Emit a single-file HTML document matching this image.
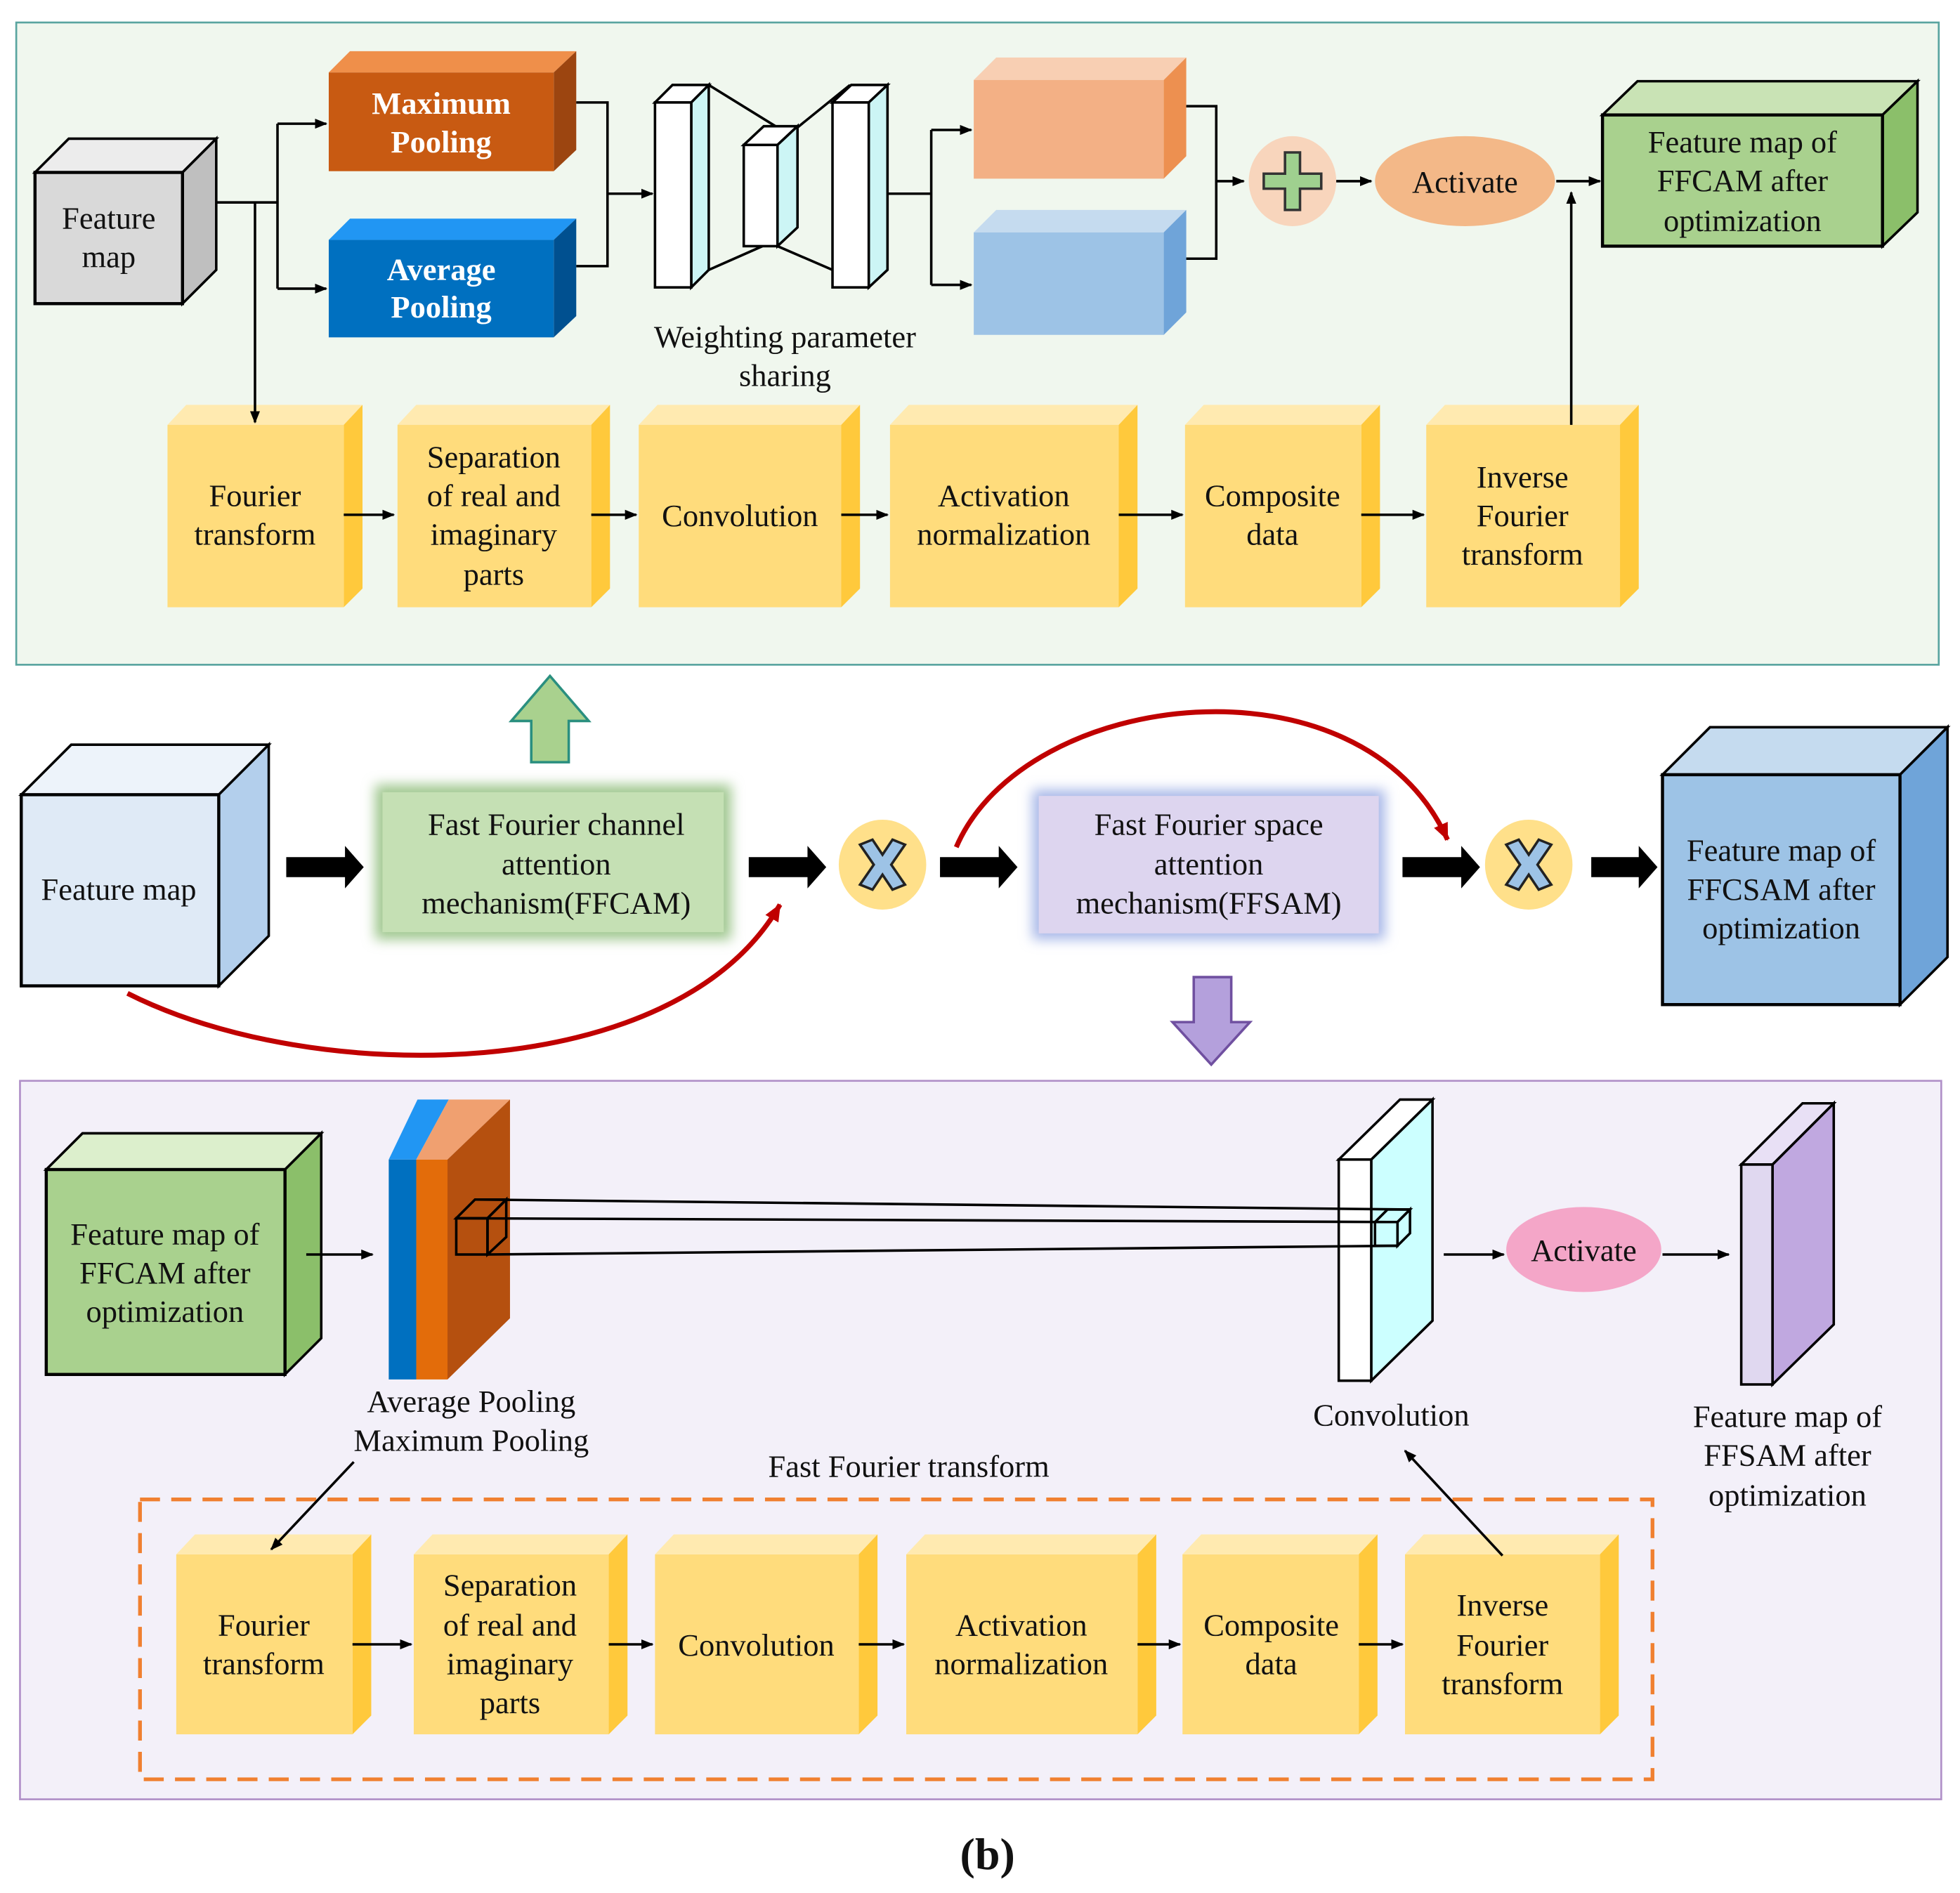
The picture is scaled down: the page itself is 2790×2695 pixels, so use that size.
<!DOCTYPE html>
<html><head><meta charset="utf-8"><style>html,body{margin:0;padding:0;background:#fff}svg{display:block}svg text{font-family:"Liberation Serif","DejaVu Serif",serif;fill:#111}</style></head><body>
<svg width="2790" height="2695" viewBox="0 0 1568 1515" preserveAspectRatio="none" xmlns="http://www.w3.org/2000/svg" font-family="Liberation Serif, DejaVu Serif, serif">
<defs>
<marker id="a" markerWidth="10" markerHeight="10" refX="9" refY="5" orient="auto" markerUnits="userSpaceOnUse"><path d="M0,1 L10,5 L0,9 Z" fill="#000"/></marker>
<marker id="r" markerWidth="16" markerHeight="16" refX="13" refY="8" orient="auto" markerUnits="userSpaceOnUse"><path d="M0,2 L14,8 L0,14 Z" fill="#c00000"/></marker>
<filter id="g" x="-20%" y="-20%" width="140%" height="140%"><feGaussianBlur stdDeviation="5"/></filter>
</defs>
<g font-size="25" text-anchor="middle" font-family="Liberation Serif, DejaVu Serif, serif">
<!-- top panel -->
<rect x="13" y="18" width="1538" height="514" fill="#f0f7ee" stroke="#5aa5a0" stroke-width="1.5"/>
<polygon points="28,138 55,111 173,111 146,138" fill="#ececec" stroke="#000" stroke-width="2"/>
<polygon points="146,138 173,111 173,216 146,243" fill="#bfbfbf" stroke="#000" stroke-width="2"/>
<rect x="28" y="138" width="118" height="105" fill="#d9d9d9" stroke="#000" stroke-width="2.5"/>
<text x="87" y="183">Feature</text><text x="87" y="214">map</text>
<polygon points="263,58 280,41 461,41 443,58" fill="#ef8f4a"/>
<polygon points="443,58 461,41 461,120 443,137" fill="#9c4510"/>
<rect x="263" y="58" width="180" height="79" fill="#c85a12"/>
<text x="353" y="91" style="fill:#fff" font-weight="bold">Maximum</text><text x="353" y="122" style="fill:#fff" font-weight="bold">Pooling</text>
<polygon points="263,192 280,175 461,175 443,192" fill="#2196f3"/>
<polygon points="443,192 461,175 461,253 443,270" fill="#005090"/>
<rect x="263" y="192" width="180" height="78" fill="#0070c0"/>
<text x="353" y="224" style="fill:#fff" font-weight="bold">Average</text><text x="353" y="254" style="fill:#fff" font-weight="bold">Pooling</text>
<!-- encoder -->
<g stroke="#000" stroke-width="2">
<line x1="567" y1="68" x2="622" y2="102"/><line x1="567" y1="216" x2="610" y2="197"/>
<line x1="638" y1="102" x2="680" y2="68"/><line x1="622" y1="197" x2="666" y2="216"/>
<polygon points="524,82 538,68 567,68 553,82" fill="#fff"/><polygon points="553,82 567,68 567,216 553,230" fill="#ccf5f5"/><rect x="524" y="82" width="29" height="148" fill="#fff"/>
<polygon points="595,116 611,101 638,101 622,116" fill="#fff"/><polygon points="622,116 638,101 638,182 622,197" fill="#ccf5f5"/><rect x="595" y="116" width="27" height="81" fill="#fff"/>
<polygon points="666,82 681,68 710,68 695,82" fill="#fff"/><polygon points="695,82 710,68 710,216 695,230" fill="#ccf5f5"/><rect x="666" y="82" width="29" height="148" fill="#fff"/>
</g>
<text x="628" y="278">Weighting parameter</text><text x="628" y="309">sharing</text>
<polygon points="779,64 797,46 949,46 931,64" fill="#f8cfb3"/><polygon points="931,64 949,46 949,125 931,143" fill="#ed9050"/><rect x="779" y="64" width="152" height="79" fill="#f3b085"/>
<polygon points="779,186 797,168 949,168 931,186" fill="#c5dbef"/><polygon points="931,186 949,168 949,250 931,268" fill="#6fa4d9"/><rect x="779" y="186" width="152" height="82" fill="#9dc3e6"/>
<ellipse cx="1034" cy="145" rx="35" ry="36" fill="#f8d5bc"/>
<path d="M1028,122 h12 v17 h17 v12 h-17 v17 h-12 v-17 h-17 v-12 h17 z" fill="#9fd08f" stroke="#333" stroke-width="2"/>
<ellipse cx="1172" cy="145" rx="72" ry="36" fill="#f3b888"/>
<text x="1172" y="154">Activate</text>
<polygon points="1282,92 1310,65 1534,65 1506,92" fill="#c9e3b5" stroke="#000" stroke-width="2"/>
<polygon points="1506,92 1534,65 1534,170 1506,197" fill="#8bbf6a" stroke="#000" stroke-width="2"/>
<rect x="1282" y="92" width="224" height="105" fill="#a9d18e" stroke="#000" stroke-width="2.5"/>
<text x="1394" y="122">Feature map of</text><text x="1394" y="153">FFCAM after</text><text x="1394" y="185">optimization</text>
<!-- yellow row 1 -->
<g>
<polygon points="134,340 149,324 290,324 275,340" fill="#ffeab0"/><polygon points="275,340 290,324 290,471 275,486" fill="#ffc93c"/><rect x="134" y="340" width="141" height="146" fill="#ffdc7c"/>
<polygon points="318,340 333,324 488,324 473,340" fill="#ffeab0"/><polygon points="473,340 488,324 488,471 473,486" fill="#ffc93c"/><rect x="318" y="340" width="155" height="146" fill="#ffdc7c"/>
<polygon points="511,340 526,324 688,324 673,340" fill="#ffeab0"/><polygon points="673,340 688,324 688,471 673,486" fill="#ffc93c"/><rect x="511" y="340" width="162" height="146" fill="#ffdc7c"/>
<polygon points="712,340 727,324 910,324 895,340" fill="#ffeab0"/><polygon points="895,340 910,324 910,471 895,486" fill="#ffc93c"/><rect x="712" y="340" width="183" height="146" fill="#ffdc7c"/>
<polygon points="948,340 963,324 1104,324 1089,340" fill="#ffeab0"/><polygon points="1089,340 1104,324 1104,471 1089,486" fill="#ffc93c"/><rect x="948" y="340" width="141" height="146" fill="#ffdc7c"/>
<polygon points="1141,340 1156,324 1311,324 1296,340" fill="#ffeab0"/><polygon points="1296,340 1311,324 1311,471 1296,486" fill="#ffc93c"/><rect x="1141" y="340" width="155" height="146" fill="#ffdc7c"/>
</g>
<g stroke="#000" stroke-width="2" fill="none">
<path d="M173,162 H222"/><path d="M222,99 V231"/>
<path d="M222,99 H261" marker-end="url(#a)"/><path d="M222,231 H261" marker-end="url(#a)"/>
<path d="M204,162 V338" marker-end="url(#a)"/>
<path d="M461,82 H486 V213 H461"/><path d="M486,155 H522" marker-end="url(#a)"/>
<path d="M710,155 H745"/><path d="M745,104 V228"/><path d="M745,104 H777" marker-end="url(#a)"/><path d="M745,228 H777" marker-end="url(#a)"/>
<path d="M949,85 H973 V207 H949"/><path d="M973,145 H995" marker-end="url(#a)"/>
<path d="M1069,145 H1097" marker-end="url(#a)"/>
<path d="M1245,145 H1280" marker-end="url(#a)"/>
<path d="M1257,340 V154" marker-end="url(#a)"/>
<path d="M275,412 H315" marker-end="url(#a)"/><path d="M473,412 H509" marker-end="url(#a)"/><path d="M673,412 H710" marker-end="url(#a)"/>
<path d="M895,412 H946" marker-end="url(#a)"/><path d="M1089,412 H1139" marker-end="url(#a)"/>
</g>
<text x="204" y="405">Fourier</text><text x="204" y="436">transform</text>
<text x="395" y="374">Separation</text><text x="395" y="405">of real and</text><text x="395" y="436">imaginary</text><text x="395" y="468">parts</text>
<text x="592" y="421">Convolution</text>
<text x="803" y="405">Activation</text><text x="803" y="436">normalization</text>
<text x="1018" y="405">Composite</text><text x="1018" y="436">data</text>
<text x="1218" y="390">Inverse</text><text x="1218" y="421">Fourier</text><text x="1218" y="452">transform</text>

<!-- middle -->
<path d="M440,541 L471,577 L455,577 L455,610 L425,610 L425,577 L409,577 Z" fill="#a9d18e" stroke="#2a8f7f" stroke-width="2"/>
<polygon points="17,636 57,596 215,596 175,636" fill="#edf3fa" stroke="#000" stroke-width="2"/>
<polygon points="175,636 215,596 215,749 175,789" fill="#b3cfec" stroke="#000" stroke-width="2"/>
<rect x="17" y="636" width="158" height="153" fill="#dfeaf6" stroke="#000" stroke-width="2.5"/>
<text x="95" y="720">Feature map</text>
<rect x="300" y="628" width="285" height="124" fill="#a0c890" filter="url(#g)"/>
<rect x="306" y="634" width="273" height="112" fill="#c5e0b4"/>
<text x="445" y="668">Fast Fourier channel</text><text x="445" y="700">attention</text><text x="445" y="731">mechanism(FFCAM)</text>
<rect x="826" y="632" width="282" height="120" fill="#a8b8e8" filter="url(#g)"/>
<rect x="831" y="637" width="272" height="110" fill="#ddd5ef"/>
<text x="967" y="668">Fast Fourier space</text><text x="967" y="700">attention</text><text x="967" y="731">mechanism(FFSAM)</text>
<g fill="#000">
<path d="M229,686 H276 V677 L291,694 L276,711 V702 H229 Z"/>
<path d="M599,686 H646 V677 L661,694 L646,711 V702 H599 Z"/>
<path d="M752,686 H799 V677 L814,694 L799,711 V702 H752 Z"/>
<path d="M1122,686 H1169 V677 L1184,694 L1169,711 V702 H1122 Z"/>
<path d="M1273,686 H1311 V677 L1326,694 L1311,711 V702 H1273 Z"/>
</g>
<ellipse cx="706" cy="692" rx="35" ry="36" fill="#ffe08a"/>
<path d="M688,676 L698,672 L706,684 L714,672 L724,676 L713,692 L724,708 L714,712 L706,700 L698,712 L688,708 L699,692 Z" fill="#9dc3e6" stroke="#222" stroke-width="2"/>
<ellipse cx="1223" cy="692" rx="35" ry="36" fill="#ffe08a"/>
<path d="M1205,676 L1215,672 L1223,684 L1231,672 L1241,676 L1230,692 L1241,708 L1231,712 L1223,700 L1215,712 L1205,708 L1216,692 Z" fill="#9dc3e6" stroke="#222" stroke-width="2"/>
<polygon points="1330,620 1368,582 1558,582 1520,620" fill="#c5dbef" stroke="#000" stroke-width="2"/>
<polygon points="1520,620 1558,582 1558,766 1520,804" fill="#6fa4d9" stroke="#000" stroke-width="2"/>
<rect x="1330" y="620" width="190" height="184" fill="#9dc3e6" stroke="#000" stroke-width="2.5"/>
<text x="1425" y="689">Feature map of</text><text x="1425" y="720">FFCSAM after</text><text x="1425" y="751">optimization</text>
<path d="M102,795 C250,870 540,870 624,724" fill="none" stroke="#c00000" stroke-width="4" marker-end="url(#r)"/>
<path d="M765,678 C820,550 1090,520 1158,672" fill="none" stroke="#c00000" stroke-width="4" marker-end="url(#r)"/>
<path d="M955,782 H985 V818 H1000 L969,852 L938,818 H955 Z" fill="#b4a0dc" stroke="#7050a0" stroke-width="2"/>

<!-- bottom panel -->
<rect x="16" y="865" width="1537" height="575" fill="#f3f0f9" stroke="#b090c8" stroke-width="1.5"/>
<polygon points="37,936 66,907 257,907 228,936" fill="#dcefcc" stroke="#000" stroke-width="2"/>
<polygon points="228,936 257,907 257,1071 228,1100" fill="#8bbf6a" stroke="#000" stroke-width="2"/>
<rect x="37" y="936" width="191" height="164" fill="#a9d18e" stroke="#000" stroke-width="2.5"/>
<text x="132" y="996">Feature map of</text><text x="132" y="1027">FFCAM after</text><text x="132" y="1058">optimization</text>
<polygon points="311,928 334,880 359,880 333,928" fill="#2196f3"/>
<polygon points="333,928 359,880 408,880 358,928" fill="#f0a070"/>
<polygon points="358,928 408,880 408,1055 358,1104" fill="#b5500f"/>
<rect x="311" y="928" width="22" height="176" fill="#0070c0"/><rect x="333" y="928" width="25" height="176" fill="#e36c0a"/>
<polygon points="1097,928 1146,880 1146,1057 1097,1105" fill="#ccffff" stroke="#000" stroke-width="2"/>
<polygon points="1071,928 1120,880 1146,880 1097,928" fill="#fff" stroke="#000" stroke-width="2"/>
<rect x="1071" y="928" width="26" height="177" fill="#fff" stroke="#000" stroke-width="2"/>
<ellipse cx="1267" cy="1000" rx="62" ry="34" fill="#f4a6c8"/>
<text x="1267" y="1009">Activate</text>
<polygon points="1418,932 1467,883 1467,1060 1418,1108" fill="#c0a8e0" stroke="#000" stroke-width="2"/>
<polygon points="1393,932 1442,883 1467,883 1418,932" fill="#e8e0f5" stroke="#000" stroke-width="2"/>
<rect x="1393" y="932" width="25" height="176" fill="#e0d8f0" stroke="#000" stroke-width="2"/>
<text x="377" y="1130">Average Pooling</text><text x="377" y="1161">Maximum Pooling</text>
<text x="1113" y="1141">Convolution</text>
<text x="1430" y="1142">Feature map of</text><text x="1430" y="1173">FFSAM after</text><text x="1430" y="1205">optimization</text>
<text x="727" y="1182">Fast Fourier transform</text>
<rect x="112" y="1200" width="1210" height="224" fill="none" stroke="#f08030" stroke-width="3" stroke-dasharray="16,9"/>
<g>
<polygon points="141,1244 156,1228 297,1228 282,1244" fill="#ffeab0"/><polygon points="282,1244 297,1228 297,1373 282,1388" fill="#ffc93c"/><rect x="141" y="1244" width="141" height="144" fill="#ffdc7c"/>
<polygon points="331,1244 346,1228 502,1228 487,1244" fill="#ffeab0"/><polygon points="487,1244 502,1228 502,1373 487,1388" fill="#ffc93c"/><rect x="331" y="1244" width="156" height="144" fill="#ffdc7c"/>
<polygon points="524,1244 539,1228 702,1228 687,1244" fill="#ffeab0"/><polygon points="687,1244 702,1228 702,1373 687,1388" fill="#ffc93c"/><rect x="524" y="1244" width="163" height="144" fill="#ffdc7c"/>
<polygon points="725,1244 740,1228 925,1228 910,1244" fill="#ffeab0"/><polygon points="910,1244 925,1228 925,1373 910,1388" fill="#ffc93c"/><rect x="725" y="1244" width="185" height="144" fill="#ffdc7c"/>
<polygon points="946,1244 961,1228 1102,1228 1087,1244" fill="#ffeab0"/><polygon points="1087,1244 1102,1228 1102,1373 1087,1388" fill="#ffc93c"/><rect x="946" y="1244" width="141" height="144" fill="#ffdc7c"/>
<polygon points="1124,1244 1139,1228 1295,1228 1280,1244" fill="#ffeab0"/><polygon points="1280,1244 1295,1228 1295,1373 1280,1388" fill="#ffc93c"/><rect x="1124" y="1244" width="156" height="144" fill="#ffdc7c"/>
</g>
<g stroke="#000" stroke-width="2" fill="none">
<polygon points="1100,978 1110,968 1128,968 1118,978"/><polygon points="1118,978 1128,968 1128,987 1118,997"/><rect x="1100" y="978" width="18" height="19"/>
<polygon points="365,975 380,960 405,960 390,975"/><polygon points="390,975 405,960 405,990 390,1004"/><rect x="365" y="975" width="25" height="29"/>
<line x1="380" y1="960" x2="1128" y2="968"/><line x1="365" y1="975" x2="1110" y2="978"/><line x1="390" y1="1004" x2="1118" y2="997"/>
<path d="M245,1004 H298" marker-end="url(#a)"/>
<path d="M1155,1004 H1203" marker-end="url(#a)"/><path d="M1330,1004 H1383" marker-end="url(#a)"/>
<path d="M283,1170 L217,1240" marker-end="url(#a)"/><path d="M1202,1245 L1124,1161" marker-end="url(#a)"/>
<path d="M282,1316 H329" marker-end="url(#a)"/><path d="M487,1316 H522" marker-end="url(#a)"/><path d="M687,1316 H723" marker-end="url(#a)"/>
<path d="M910,1316 H944" marker-end="url(#a)"/><path d="M1087,1316 H1122" marker-end="url(#a)"/>
</g>
<text x="211" y="1309">Fourier</text><text x="211" y="1340">transform</text>
<text x="408" y="1277">Separation</text><text x="408" y="1309">of real and</text><text x="408" y="1340">imaginary</text><text x="408" y="1371">parts</text>
<text x="605" y="1325">Convolution</text>
<text x="817" y="1309">Activation</text><text x="817" y="1340">normalization</text>
<text x="1017" y="1309">Composite</text><text x="1017" y="1340">data</text>
<text x="1202" y="1293">Inverse</text><text x="1202" y="1325">Fourier</text><text x="1202" y="1356">transform</text>
<text x="790" y="1496" font-size="36" font-weight="bold">(b)</text>
</g>
</svg>
</body></html>
